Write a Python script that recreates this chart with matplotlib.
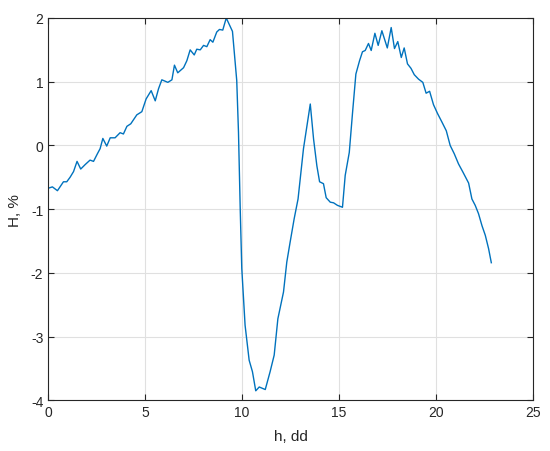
import numpy as np
import matplotlib.pyplot as plt

# values
h_dd = [0.02, 0.22, 0.48, 0.79, 0.96, 1.13, 1.31, 1.49, 1.68, 1.91, 2.16, 2.34,
        2.54, 2.68, 2.82, 3.02, 3.20, 3.45, 3.71, 3.88, 4.06, 4.26, 4.57, 4.83,
        5.05, 5.31, 5.52, 5.69, 5.86, 6.17, 6.38, 6.51, 6.68, 6.98, 7.15, 7.32,
        7.53, 7.66, 7.84, 8.01, 8.18, 8.35, 8.49, 8.69, 8.83, 9.00, 9.18, 9.50,
        9.64, 9.72, 9.81, 9.90, 9.98, 10.15, 10.36, 10.53, 10.70, 10.88, 11.19,
        11.44, 11.65, 11.84, 12.13, 12.30, 12.47, 12.68, 12.88, 13.16, 13.51,
        13.68, 13.85, 13.99, 14.19, 14.33, 14.54, 14.71, 14.91, 15.17, 15.31,
        15.52, 15.69, 15.86, 16.05, 16.20, 16.34, 16.51, 16.65, 16.84, 17.01,
        17.20, 17.48, 17.68, 17.85, 18.02, 18.20, 18.35, 18.52, 18.70, 18.87,
        19.09, 19.31, 19.48, 19.66, 19.86, 20.07, 20.29, 20.52, 20.72, 20.93,
        21.15, 21.38, 21.67, 21.84, 22.01, 22.18, 22.36, 22.53, 22.70, 22.84]
H_pct = [-0.67, -0.65, -0.71, -0.57, -0.57, -0.50, -0.41, -0.25, -0.37, -0.30,
         -0.23, -0.25, -0.13, -0.05, 0.11, -0.01, 0.12, 0.12, 0.20, 0.18, 0.30,
         0.34, 0.48, 0.53, 0.73, 0.86, 0.70, 0.89, 1.03, 0.99, 1.03, 1.26, 1.14,
         1.22, 1.33, 1.50, 1.42, 1.51, 1.50, 1.57, 1.55, 1.66, 1.62, 1.78, 1.82,
         1.81, 2.00, 1.79, 1.30, 1.02, 0.21, -1.00, -1.93, -2.82, -3.37, -3.55,
         -3.85, -3.79, -3.83, -3.55, -3.29, -2.72, -2.30, -1.83, -1.52, -1.15,
         -0.84, -0.05, 0.65, 0.10, -0.32, -0.57, -0.60, -0.82, -0.89, -0.90,
         -0.94, -0.97, -0.47, -0.11, 0.52, 1.12, 1.33, 1.47, 1.49, 1.60, 1.49,
         1.76, 1.57, 1.80, 1.53, 1.85, 1.52, 1.63, 1.38, 1.53, 1.28, 1.21, 1.11,
         1.04, 0.99, 0.82, 0.85, 0.64, 0.50, 0.37, 0.23, 0.00, -0.13, -0.29,
         -0.42, -0.59, -0.84, -0.94, -1.07, -1.26, -1.41, -1.62, -1.84]

x_ticks = [0, 5, 10, 15, 20, 25]
y_ticks = [-4, -3, -2, -1, 0, 1, 2]

plt.rcParams['font.family'] = ['Liberation Sans', 'DejaVu Sans']
plt.rcParams['axes.unicode_minus'] = False

fig = plt.figure(figsize=(5.5, 4.52), dpi=100)
ax = fig.add_axes([0.0875, 0.112, 0.882, 0.846])
ax.plot(h_dd, H_pct, color='#0072BD', lw=1.0)

ax.set_xlim(0, 25)
ax.set_ylim(-4, 2)
ax.set_xticks(x_ticks)
ax.set_yticks(y_ticks)
ax.grid(True, color='#e0e0e0', lw=0.8)
ax.set_axisbelow(True)
for s in ax.spines.values():
    s.set_color('#262626')
    s.set_linewidth(0.8)
ax.tick_params(direction='in', top=True, right=True, length=4, width=0.8,
               colors='#262626', labelsize=10, labelcolor='#262626')
ax.set_xlabel('h, dd', fontsize=11, color='#262626', labelpad=7)
ax.set_ylabel('H, %', fontsize=11, color='#262626', labelpad=6)

fig.savefig('out.png', dpi=100)
